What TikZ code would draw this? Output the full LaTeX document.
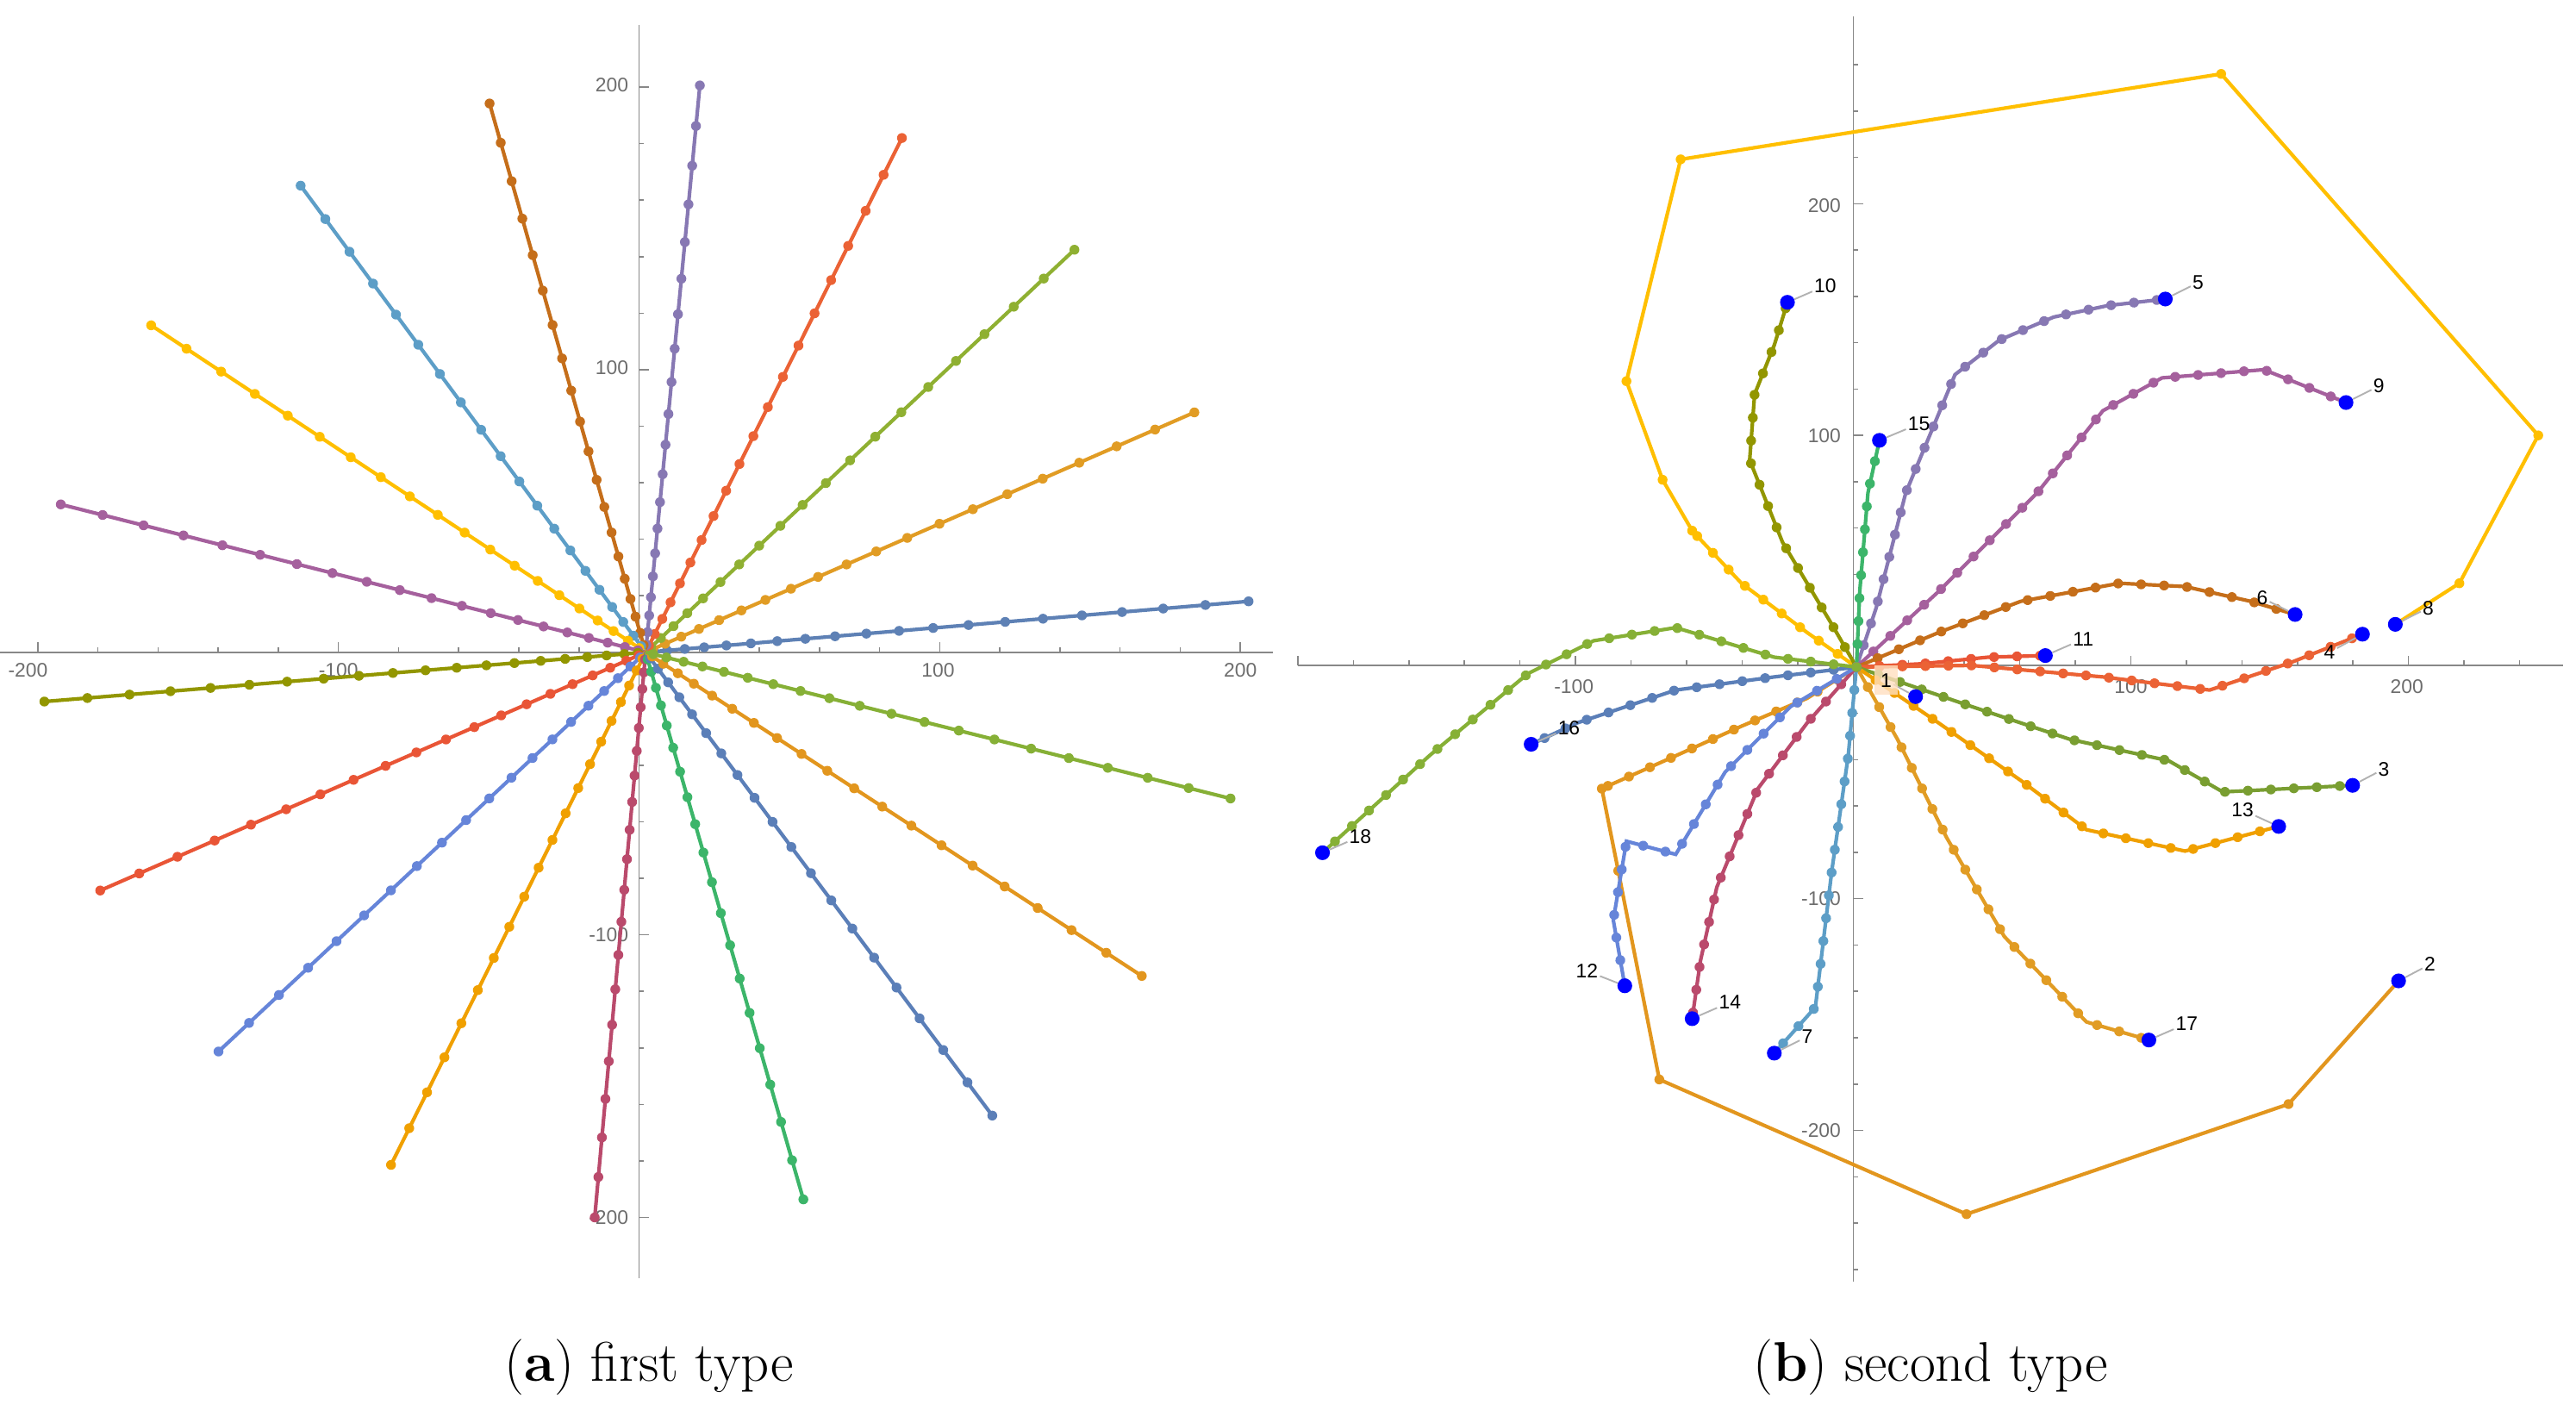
\documentclass[tikz,border=0pt]{standalone}
\usepackage{fontspec}
\newfontfamily\tickf{Liberation Sans}
\usetikzlibrary{calc,decorations.markings}
\definecolor{c1}{HTML}{5E81B5}\definecolor{c2}{HTML}{E19C24}\definecolor{c3}{HTML}{8FB032}
\definecolor{c4}{HTML}{EB6235}\definecolor{c5}{HTML}{8778B3}\definecolor{c6}{HTML}{C56E1A}
\definecolor{c7}{HTML}{5D9EC7}\definecolor{c8}{HTML}{FFBF00}\definecolor{c9}{HTML}{A5609D}
\definecolor{c10}{HTML}{929600}\definecolor{c11}{HTML}{E95536}\definecolor{c12}{HTML}{6685D9}
\definecolor{c13}{HTML}{F0A000}\definecolor{c14}{HTML}{BA4A6C}\definecolor{c15}{HTML}{3CB56A}
\definecolor{c16}{HTML}{5B7FB8}\definecolor{c17}{HTML}{E2961E}\definecolor{c18}{HTML}{86B036}
\definecolor{axc}{HTML}{888888}
\tikzset{
 ax/.style={axc,line width=0.8pt},
 tl/.style={font=\tickf\fontsize{12}{12}\selectfont,text=axc!80!black},
 ray/.style={line width=2.2pt},
 dotted path/.style={line width=2.2pt,postaction={decorate,decoration={markings,
   mark=between positions 0 and 1 step 14pt with {\fill circle (3pt);}}}},
 endp/.style={fill=blue,circle,inner sep=0pt,minimum size=9pt},
 lab/.style={font=\tickf\fontsize{12}{12}\selectfont,inner sep=1pt},
 lead/.style={gray!60,line width=1pt},
 captxt/.style={font=\fontsize{34}{38}\selectfont}
}
\begin{document}
\begin{tikzpicture}[x=1pt,y=-1pt]
\useasboundingbox (0,0) rectangle (1568,866);
% ---------- left axes
\draw[ax] (0,397) -- (775,397);
\draw[ax] (389,15) -- (389,778);
\foreach \i in {-10,...,10}{\draw[ax] ({389+\i*36.6},397) -- ({389+\i*36.6},{ifthenelse(mod(\i,5)==0,391,394)});}
\foreach \i in {-10,...,10}{\draw[ax] (389,{397+\i*34.4}) -- ({ifthenelse(mod(\i,5)==0,395,392)},{397+\i*34.4});}
\node[tl] at (17,408) {-200};\node[tl] at (206,408) {-100};
\node[tl] at (571,408) {100};\node[tl] at (755,408) {200};
\node[tl,anchor=east] at (386,52) {200};\node[tl,anchor=east] at (386,224) {100};
\node[tl,anchor=east] at (386,569) {-100};\node[tl,anchor=east] at (386,741) {-200};
\coordinate (O) at (393,397);
\foreach \ex/\ey/\c in {760/366/c1,727/251/c2,654/152/c3,549/84/c4,426/52/c5,298/63/c6,183/113/c7,92/198/c8,37/307/c9,27/427/c10,61/542/c11,133/640/c12,238/709/c13,362/741/c14,489/730/c15,604/679/c16,695/594/c17,749/486/c18}{
  \draw[ray,\c] (O) -- (\ex,\ey);
  \foreach \k in {1,...,20}{\pgfmathsetmacro\t{(\k/20)^1.45}
    \fill[\c] ($(O)!\t!(\ex,\ey)$) circle (3pt);}
}
% ---------- right axes
\draw[ax] (790,405) -- (1560,405);
\draw[ax] (1128,10) -- (1128,780);
\foreach \i in {-10,...,12}{\draw[ax] ({1128+\i*33.8},405) -- ({1128+\i*33.8},{ifthenelse(mod(\i,5)==0,399,402)});}
\foreach \i in {-13,...,13}{\draw[ax] (1128,{406+\i*28.2}) -- ({ifthenelse(mod(\i,5)==0,1134,1131)},{406+\i*28.2});}
\node[tl] at (958,418) {-100};\node[tl] at (1297,418) {100};\node[tl] at (1465,418) {200};
\node[tl,anchor=east] at (1124,125) {200};\node[tl,anchor=east] at (1124,265) {100};
\node[tl,anchor=east] at (1124,547) {-100};\node[tl,anchor=east] at (1124,688) {-200};
\coordinate (P) at (1130,406);
% big loops: dense near centre, dots only at vertices further out
\draw[dotted path,c8] (P) -- (1100,385) -- (1060,355) -- (1030,323);
\draw[ray,c8] (1030,323) -- (1012,292) -- (990,232) -- (1023,97) -- (1352,45) -- (1545,265) -- (1497,355) -- (1458,380);
\foreach \x/\y in {1030/323,1012/292,990/232,1023/97,1352/45,1545/265,1497/355}{\fill[c8] (\x,\y) circle (3pt);}
\draw[dotted path,c17] (P) -- (1100,425) -- (1060,442) -- (1020,460) -- (975,480);
\draw[ray,c17] (975,480) -- (985,530) -- (1010,657) -- (1197,739) -- (1393,672) -- (1460,597);
\foreach \x/\y in {975/480,985/530,1010/657,1197/739,1393/672}{\fill[c17] (\x,\y) circle (3pt);}
% curves
\draw[dotted path,c5] (P) -- (1142,370) -- (1160,300) -- (1190,228) -- (1217,207) -- (1250,193) -- (1283,186) -- (1318,182);
\draw[dotted path,c9] (P) -- (1180,360) -- (1240,300) -- (1280,250) -- (1316,230) -- (1378,225) -- (1428,245);
\draw[dotted path,c10] (P) -- (1115,380) -- (1085,330) -- (1065,280) -- (1068,240) -- (1080,210) -- (1088,184);
\draw[dotted path,c15] (P) -- (1132,360) -- (1137,300) -- (1144,268);
\draw[dotted path,c6] (P) -- (1180,385) -- (1230,366) -- (1290,355) -- (1330,357) -- (1370,366) -- (1397,374);
\draw[dotted path,c11] (P) -- (1170,404) -- (1210,400) -- (1245,399);
\draw[dotted path,c4] (P) -- (1200,405) -- (1280,412) -- (1345,420) -- (1395,403) -- (1438,386);
\draw[dotted path,c18!90!black] (P) -- (1200,430) -- (1260,450) -- (1320,463) -- (1353,482) -- (1432,478);
\draw[dotted path,c13] (P) -- (1180,440) -- (1230,475) -- (1270,505) -- (1330,518) -- (1387,503);
\draw[dotted path,c2] (P) -- (1155,450) -- (1185,510) -- (1220,570) -- (1270,622) -- (1308,633);
\draw[dotted path,c7] (P) -- (1125,460) -- (1115,530) -- (1105,613) -- (1080,641);
\draw[dotted path,c14] (P) -- (1100,440) -- (1070,480) -- (1045,540) -- (1035,585) -- (1030,620);
\draw[dotted path,c12] (P) -- (1090,430) -- (1050,470) -- (1020,520) -- (990,512) -- (982,560) -- (989,600);
\draw[dotted path,c16] (P) -- (1080,412) -- (1020,420) -- (960,440) -- (932,453);
\draw[dotted path,c18] (P) -- (1080,400) -- (1020,382) -- (970,390) -- (930,410) -- (870,460) -- (805,519);
% endpoints and labels
\foreach \n/\x/\y/\lx/\ly in {1/1166/424/1148/414, 2/1460/597/1479/587, 3/1432/478/1451/468, 4/1438/386/1418/397, 5/1318/182/1338/172, 6/1397/374/1377/364, 7/1080/641/1100/631, 8/1458/380/1478/370, 9/1428/245/1448/235, 10/1088/184/1111/174, 11/1245/399/1268/389, 12/989/600/966/591, 13/1387/503/1365/493, 14/1030/620/1053/610, 15/1144/268/1168/258, 16/932/453/955/443, 17/1308/633/1331/623, 18/805/519/828/509}{
  \node[endp] (e\n) at (\x,\y) {};
  \node[lab] (l\n) at (\lx,\ly) {\n};
  \draw[lead] (e\n) -- (l\n);
}
\fill[orange!25,opacity=0.8] (1141,405) rectangle (1155,423);
\node[lab] at (1148,414) {1};
% captions
\node[captxt] (ca) at (395,832) {(\textbf{a}) first type};
\node[captxt] (cb) at (1175,832) {(\textbf{b}) second type};
\end{tikzpicture}
\end{document}
